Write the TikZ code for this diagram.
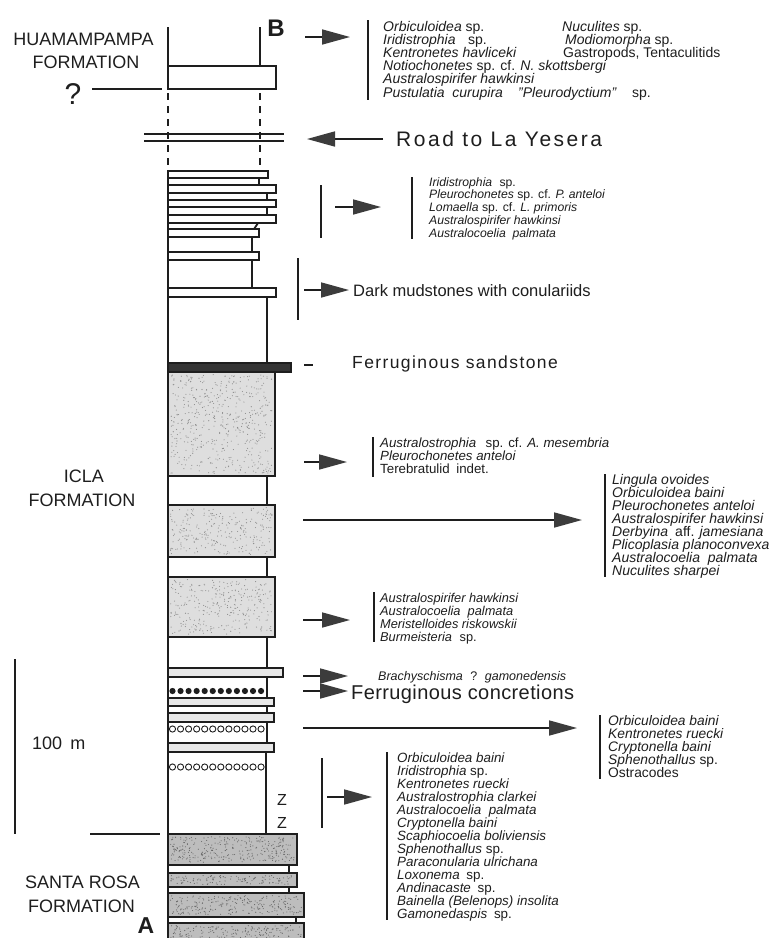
\documentclass[tikz,border=0pt]{standalone}
\usepackage{fontspec}
\setmainfont{Liberation Sans}
\usetikzlibrary{arrows.meta}
\definecolor{ink}{HTML}{1E1E1E}
\definecolor{headc}{HTML}{3C3C3C}
\definecolor{stl}{HTML}{DEDEDE}
\definecolor{std}{HTML}{BDBDBD}
\definecolor{stt}{HTML}{E8E8E8}
\newcommand\fsz[1]{\fontsize{#1}{#1}\selectfont}
\newcommand\fosl[2]{\vtop{\baselineskip=#1pt\lineskiplimit=-100pt\lineskip=0pt #2}}
\newcommand\frow[1]{\hbox{#1}}
\newcommand\stip[6]{\foreach \k in {1,...,#5}{\fill[#6] ({#1+2.5+(#3-#1-5)*rnd},{#2+2.5+(#4-#2-5)*rnd}) circle (0.55pt);}}
\begin{document}
\begin{tikzpicture}[x=1pt,y=-1pt,
  colline/.style={line width=1.8pt, draw=ink},
  dashline/.style={colline, dash pattern=on 7pt off 6pt},
  bedbox/.style={draw=ink, line width=2pt, fill=white},
  lbed/.style={bedbox, fill=stt},
  sbed/.style={bedbox, fill=stl},
  dbed/.style={bedbox, fill=std},
  blackbed/.style={bedbox, fill=ink!90},
  arr/.style={line width=1.7pt, draw=ink, -{Triangle[length=28pt,width=15pt,color=headc]}},
  barline/.style={line width=2.3pt, draw=ink},
  thinline/.style={line width=1.5pt, draw=ink},
  lbl/.style={inner sep=0pt, anchor=base west, text=ink},
  clbl/.style={inner sep=0pt, anchor=base, text=ink}
]
\pgfmathsetseed{11}
\useasboundingbox (0,0) rectangle (776,938);
\fill[white] (0,0) rectangle (776,938);

% ---------- column outline ----------
\draw[colline] (168,27) -- (168,89);
\draw[dashline] (168,93) -- (168,171);
\draw[colline] (168,171) -- (168,945);
\draw[colline] (260,27) -- (260,66);
\draw[dashline] (260,93) -- (260,171);
\draw[bedbox] (168,66) rectangle (276,89);

% gap right edges
\foreach \xx/\ya/\yb in {259/178/185, 267/193/200, 267/207/215, 252/237/252, 252/260/288,
   267/297/363, 267/476/505, 267/557/577, 267/637/668, 267/677/698, 267/706/713,
   267/722/743, 266/752/834, 289/865/873, 289/887/893, 296/917/923}
  \draw[colline] (\xx,\ya) -- (\xx,\yb);
\draw[colline] (258,223) -- (254,229);

% beds
\foreach \ya/\yb/\xr in {171/178/268, 185/193/276, 200/207/276, 215/223/276,
   229/237/259, 252/260/259, 288/297/276}
  \draw[bedbox] (168,\ya) rectangle (\xr,\yb);
\foreach \ya/\yb/\xr in {372/476/275, 505/557/275, 577/637/275}
  \draw[sbed] (168,\ya) rectangle (\xr,\yb);
\stip{168}{372}{275}{476}{520}{black!45}
\stip{168}{505}{275}{557}{260}{black!45}
\stip{168}{577}{275}{637}{300}{black!45}
\draw[blackbed] (168,363) rectangle (291,372);
\foreach \ya/\yb/\xr in {668/677/283, 698/706/274, 713/722/274, 743/752/274}
  \draw[lbed] (168,\ya) rectangle (\xr,\yb);
\foreach \ya/\yb/\xr in {834/865/297, 873/887/297, 893/917/304, 923/945/304}
  \draw[dbed] (168,\ya) rectangle (\xr,\yb);
\stip{168}{834}{297}{865}{300}{black!60}
\stip{168}{873}{297}{887}{120}{black!60}
\stip{168}{893}{304}{917}{240}{black!60}
\stip{168}{923}{304}{940}{160}{black!60}

% concretions
\foreach \i in {0,...,11} {
  \fill[ink] (172.5+8.05*\i,691) circle (3.1pt);
  \draw[ink, line width=0.9pt] (172.5+8.05*\i,729) circle (3.1pt);
  \draw[ink, line width=0.9pt] (172.5+8.05*\i,767) circle (3.1pt);
}

% road
\draw[thinline] (144,134) -- (284,134);
\draw[thinline] (144,141) -- (284,141);

% ---------- left labels ----------
\node[clbl] (huam) at (83.5,45) {\fsz{18}HUAMAMPAMPA};
\node[clbl] (huamf) at (86,68) {\fsz{18}FORMATION};
\node[clbl] (quest) at (73,104) {\fsz{30}?};
\coordinate (qa) at (92,89);
\coordinate (qb) at (162,89);
\draw[thinline] (qa) -- (qb);
\node[clbl] (icla) at (84,482) {\fsz{18}ICLA};
\node[clbl] (iclaf) at (82,506) {\fsz{18}FORMATION};
\coordinate (sca) at (15,659);
\coordinate (scb) at (15,834);
\draw[barline] (sca) -- (scb);
\node[lbl] (hm) at (32,749) {\fsz{18}100\hspace{0.45em}m};
\coordinate (fa) at (90,834);
\coordinate (fb) at (160,834);
\draw[thinline] (fa) -- (fb);
\node[clbl] (sr) at (82.5,888) {\fsz{18}SANTA ROSA};
\node[clbl] (srf) at (81.5,912) {\fsz{18}FORMATION};
\node[clbl] (bB) at (276,36) {\fsz{24}\bfseries B};
\node[clbl] (aA) at (146,933.5) {\fsz{23}\bfseries A};
\node[clbl] (z1) at (282,805) {\fsz{16}Z};
\node[clbl] (z2) at (282,828) {\fsz{16}Z};

% ---------- arrows ----------
\foreach \n/\xa/\xb/\yy in {a1/305/350/37, a2/335/381/207, a3/304/349/290, a4/304/347/462,
   a5/303/582/520, a6/303/350/620, a7/303/348/676, a8/303/348/691, a9/303/577/728, a10/327/372/797} {
  \coordinate (\n s) at (\xa,\yy);
  \coordinate (\n e) at (\xb,\yy);
  \draw[arr] (\n s) -- (\n e);
}
\coordinate (rds) at (383,139);
\coordinate (rde) at (307,139);
\draw[arr] (rds) -- (rde);

% ---------- bars ----------
\foreach \xx/\ya/\yb in {368/20/100, 321/185/238, 412/177/239, 298/258/320, 373/437/477,
   605/474/577, 374/592/642, 600/715/779, 322/758/828, 387/752/920}
  \draw[barline] (\xx,\ya) -- (\xx,\yb);

% ---------- texts ----------
\node[lbl] (t1) at (383,31) {\fsz{14}\fosl{13.2}{%
  \frow{\textit{Orbiculoidea} sp.}
  \frow{\textit{Iridistrophia}\hspace{0.9em}sp.}
  \frow{\textit{Kentronetes havliceki}}
  \frow{\textit{Notiochonetes} sp. cf. \textit{N. skottsbergi}}
  \frow{\textit{Australospirifer hawkinsi}}
  \frow{\textit{Pustulatia\ \ curupira}}}};
\node[lbl] (t1b) at (562,31) {\fsz{14}\textit{Nuculites} sp.};
\node[lbl] (t1c) at (565,44.2) {\fsz{14}\textit{Modiomorpha} sp.};
\node[lbl] (t1d) at (563,57.4) {\fsz{14}Gastropods, Tentaculitids};
\node[lbl] (t1e) at (518,97) {\fsz{14}\textit{"Pleurodyctium"}\hspace{1.1em}sp.};

\node[lbl] (road) at (396,146.5) {\fsz{21}\addfontfeatures{LetterSpace=12}Road to La Yesera};

\node[lbl] (t2) at (429,186) {\fsz{12.2}\fosl{12.9}{%
  \frow{\textit{Iridistrophia}\hspace{0.6em}sp.}
  \frow{\textit{Pleurochonetes} sp. cf. \textit{P. anteloi}}
  \frow{\textit{Lomaella} sp. cf. \textit{L. primoris}}
  \frow{\textit{Australospirifer hawkinsi}}
  \frow{\textit{Australocoelia\ \ palmata}}}};

\node[lbl] (dark) at (353,296) {\fsz{16.5}Dark mudstones with conulariids};
\coordinate (da) at (304,365);
\coordinate (db) at (313,365);
\draw[line width=2pt, draw=ink] (da) -- (db);
\node[lbl] (fsand) at (352,368) {\fsz{17.5}\addfontfeatures{LetterSpace=8}Ferruginous sandstone};

\node[lbl] (t3) at (380,447) {\fsz{13.3}\fosl{13}{%
  \frow{\textit{Australostrophia}\hspace{0.7em}sp. cf. \textit{A. mesembria}}
  \frow{\textit{Pleurochonetes anteloi}}
  \frow{Terebratulid\hspace{0.5em}indet.}}};

\node[lbl] (t4) at (612,484) {\fsz{14}\fosl{13}{%
  \frow{\textit{Lingula ovoides}}
  \frow{\textit{Orbiculoidea baini}}
  \frow{\textit{Pleurochonetes anteloi}}
  \frow{\textit{Australospirifer hawkinsi}}
  \frow{\textit{Derbyina}\hspace{0.5em}aff. \textit{jamesiana}}
  \frow{\textit{Plicoplasia planoconvexa}}
  \frow{\textit{Australocoelia\ \ palmata}}
  \frow{\textit{Nuculites sharpei}}}};

\node[lbl] (t5) at (380,602) {\fsz{12.8}\fosl{13}{%
  \frow{\textit{Australospirifer hawkinsi}}
  \frow{\textit{Australocoelia\ \ palmata}}
  \frow{\textit{Meristelloides riskowskii}}
  \frow{\textit{Burmeisteria}\hspace{0.6em}sp.}}};

\node[lbl] (brach) at (378,680) {\fsz{12.5}\textit{Brachyschisma}\hspace{0.6em}?\hspace{0.6em}\textit{gamonedensis}};
\node[lbl] (fconc) at (351,699) {\fsz{20}\addfontfeatures{LetterSpace=2}Ferruginous concretions};

\node[lbl] (t6) at (608,725) {\fsz{13.8}\fosl{13}{%
  \frow{\textit{Orbiculoidea baini}}
  \frow{\textit{Kentronetes ruecki}}
  \frow{\textit{Cryptonella baini}}
  \frow{\textit{Sphenothallus} sp.}
  \frow{Ostracodes}}};

\node[lbl] (t7) at (397,762) {\fsz{13.4}\fosl{13.06}{%
  \frow{\textit{Orbiculoidea baini}}
  \frow{\textit{Iridistrophia} sp.}
  \frow{\textit{Kentronetes ruecki}}
  \frow{\textit{Australostrophia clarkei}}
  \frow{\textit{Australocoelia\ \ palmata}}
  \frow{\textit{Cryptonella baini}}
  \frow{\textit{Scaphiocoelia boliviensis}}
  \frow{\textit{Sphenothallus} sp.}
  \frow{\textit{Paraconularia ulrichana}}
  \frow{\textit{Loxonema}\hspace{0.5em}sp.}
  \frow{\textit{Andinacaste}\hspace{0.5em}sp.}
  \frow{\textit{Bainella (Belenops) insolita}}
  \frow{\textit{Gamonedaspis}\hspace{0.5em}sp.}}};
\end{tikzpicture}
\end{document}
